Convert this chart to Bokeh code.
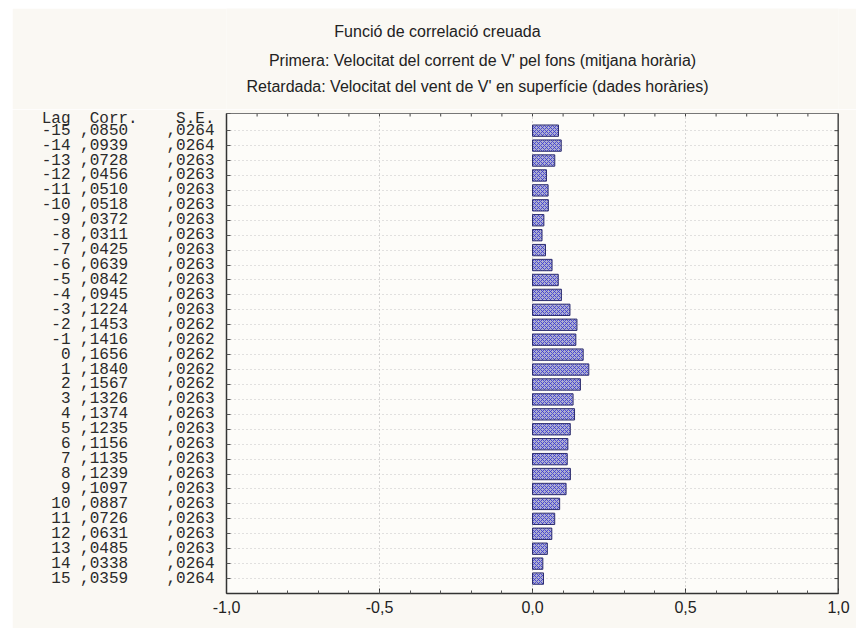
import math
from bokeh.plotting import figure
from bokeh.models import Range1d, FixedTicker, Spacer, ColumnDataSource
from bokeh.core.properties import value
from bokeh.layouts import column, row
from bokeh.embed import file_html
from bokeh.resources import INLINE

# Cross-correlation by lag
lags = list(range(-15, 16))
corr = [0.0850, 0.0939, 0.0728, 0.0456, 0.0510, 0.0518, 0.0372, 0.0311, 0.0425, 0.0639,
        0.0842, 0.0945, 0.1224, 0.1453, 0.1416, 0.1656, 0.1840, 0.1567, 0.1326, 0.1374,
        0.1235, 0.1156, 0.1135, 0.1239, 0.1097, 0.0887, 0.0726, 0.0631, 0.0485, 0.0338,
        0.0359]
se = [0.0264, 0.0264, 0.0263, 0.0263, 0.0263, 0.0263, 0.0263, 0.0263, 0.0263, 0.0263,
      0.0263, 0.0263, 0.0263, 0.0262, 0.0262, 0.0262, 0.0262, 0.0262, 0.0263, 0.0263,
      0.0263, 0.0263, 0.0263, 0.0263, 0.0263, 0.0263, 0.0263, 0.0263, 0.0263, 0.0264,
      0.0264]

x_ticks = [-1.0, -0.5, 0.0, 0.5, 1.0]
x_tick_labels = ["-1,0", "-0,5", "0,0", "0,5", "1,0"]
x_minor = [round(-1.0 + 0.1 * i, 1) for i in range(21)]

title_lines = [
    "Funció de correlació creuada",
    "Primera: Velocitat del corrent de V' pel fons (mitjana horària)",
    "Retardada: Velocitat del vent de V' en superfície (dades horàries)",
]
table_header = ["Lag", "", "Corr.", "", "", "", "S.E."]

NB = "\u00a0"  # keeps runs of spaces in the SVG text


def comma(v):
    return f"{v:.4f}".replace("0.", ",", 1)


BG = "#faf8f3"
W = 844
FL, FR, FT, FB = 214, 18, 4, 35
TITLE_H = 101
MAIN_H = 620 - TITLE_H
Y_TOP, Y_BOT = -16.15, 16.0
PAGE_X0 = 12 + FL                     # page x of the plot frame's left edge
PX_PER_X = (W - FL - FR) / 2.0        # pixels per unit of correlation


def page_x(px):
    return -1.0 + (px - PAGE_X0) / PX_PER_X


# ---- title strip (shares the chart's horizontal frame) ----------------
t = figure(width=W, height=TITLE_H, output_backend="svg", toolbar_location=None,
           x_range=Range1d(-1.0, 1.0), y_range=Range1d(TITLE_H, 0),
           min_border_left=FL, min_border_right=FR, min_border_top=0,
           min_border_bottom=0, outline_line_color=None)
t.axis.visible = False
t.grid.visible = False
t.border_fill_color = BG
t.background_fill_color = BG
tsrc = ColumnDataSource(dict(x=[page_x(437), page_x(482), page_x(477)],
                             y=[23, 52, 78], text=title_lines))
t.text(x="x", y="y", text="text", source=tsrc, text_align="center",
       text_baseline="middle", text_font=value("Liberation Sans"),
       text_font_size="16px", text_color="#222222")

# ---- main chart --------------------------------------------------------
p = figure(width=W, height=MAIN_H, output_backend="svg", toolbar_location=None,
           x_range=Range1d(-1.0, 1.0), y_range=Range1d(Y_BOT, Y_TOP),
           min_border_left=FL, min_border_right=FR, min_border_top=FT,
           min_border_bottom=FB)
p.border_fill_color = BG
p.background_fill_color = "#fdfcf9"
p.outline_line_color = "#777777"
p.outline_line_width = 1

# dotted grid
p.xgrid.ticker = FixedTicker(ticks=x_ticks)
p.xgrid.grid_line_color = "#b0b0b0"
p.xgrid.grid_line_dash = "1 3"
p.ygrid.ticker = FixedTicker(ticks=lags)
p.ygrid.grid_line_color = "#c4c4c4"
p.ygrid.grid_line_dash = "1 3"

# bars
src = ColumnDataSource(dict(lag=lags, corr=corr, zero=[0.0] * len(lags)))
p.hbar(y="lag", left="zero", right="corr", height=0.76, source=src,
       fill_color="#aeaed0", line_color="#2e2e6e", line_width=1,
       hatch_pattern="diagonal_cross", hatch_color="#3a3ad0",
       hatch_scale=4, hatch_weight=1, hatch_alpha=0.85)

# bottom axis
xa = p.xaxis[0]
xa.ticker = FixedTicker(ticks=x_ticks, minor_ticks=x_minor)
xa.major_label_overrides = {tk: lb for tk, lb in zip(x_ticks, x_tick_labels)}
xa.major_label_text_font = "Liberation Sans"
xa.major_label_text_font_size = "16px"
xa.major_label_text_color = "#222222"
xa.major_label_standoff = 7
xa.major_tick_in = 5
xa.major_tick_out = 0
xa.minor_tick_in = 3
xa.minor_tick_out = 0
xa.axis_line_color = "#333333"
xa.axis_line_width = 1.5
xa.major_tick_line_color = "#333333"
xa.minor_tick_line_color = "#555555"

# left axis carries the lag / corr / S.E. table
ya = p.yaxis[0]
labels = {Y_TOP: NB.join(table_header)}
for lg, c, s in zip(lags, corr, se):
    labels[lg] = f"{lg:>3d} {comma(c)}    {comma(s)}".replace(" ", NB)
ya.ticker = FixedTicker(ticks=[Y_TOP] + lags, minor_ticks=[])
ya.major_label_overrides = labels
ya.major_label_text_font = "Liberation Mono"
ya.major_label_text_font_size = "16px"
ya.major_label_text_color = "#2a2a2a"
ya.major_label_standoff = 12
ya.major_tick_in = 4
ya.major_tick_out = 0
ya.minor_tick_in = 0
ya.minor_tick_out = 0
ya.axis_line_color = "#333333"
ya.axis_line_width = 1.5
ya.major_tick_line_color = "#555555"

# tick marks along the top and right edges
p.ray(x=x_minor, y=[Y_TOP] * len(x_minor), length=3, length_units="screen",
      angle=-math.pi / 2, line_color="#444444", line_width=1)
p.ray(x=[1.0] * len(lags), y=lags, length=4, length_units="screen",
      angle=math.pi, line_color="#444444", line_width=1)
p.segment(x0=[1.0], y0=[Y_TOP], x1=[1.0], y1=[Y_BOT], line_color="#333333",
          line_width=2)

layout = column(Spacer(height=8, width=856),
                row(Spacer(width=12, height=620), column(t, p)))

open("out.html", "w").write(file_html(layout, INLINE))
